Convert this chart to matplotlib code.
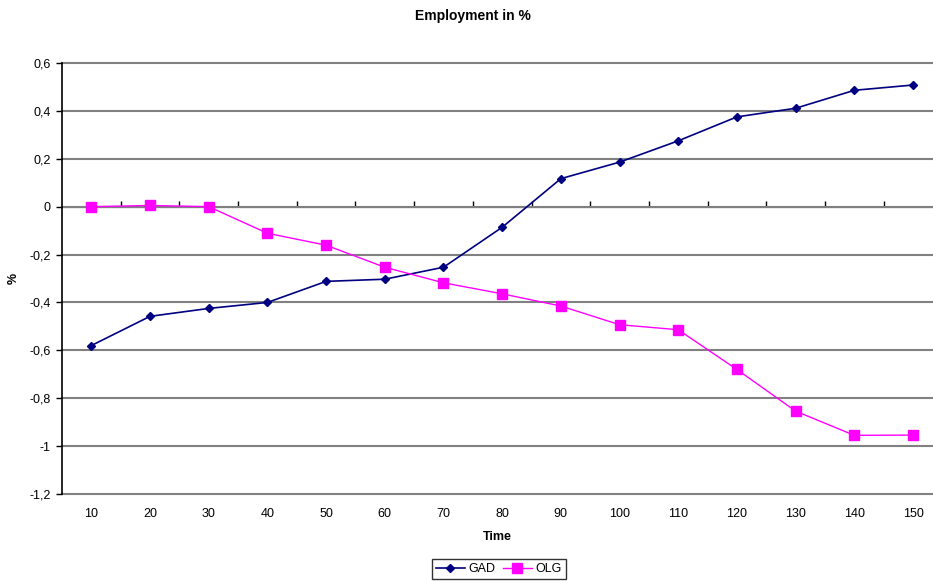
import matplotlib
matplotlib.use("Agg")
import matplotlib.pyplot as plt
from matplotlib.ticker import FuncFormatter

plt.rcParams['font.family'] = ['Liberation Sans', 'DejaVu Sans']

categories = [10, 20, 30, 40, 50, 60, 70, 80, 90, 100, 110, 120, 130, 140, 150]
gad = [-0.58, -0.458, -0.425, -0.40, -0.312, -0.303, -0.253, -0.086, 0.117,
       0.186, 0.275, 0.375, 0.411, 0.486, 0.508]
olg = [0.0, 0.005, 0.0, -0.111, -0.161, -0.253, -0.318, -0.364, -0.415,
       -0.493, -0.514, -0.68, -0.854, -0.955, -0.954]
yticks = [0.6, 0.4, 0.2, 0, -0.2, -0.4, -0.6, -0.8, -1, -1.2]

fig = plt.figure(figsize=(9.33, 5.81), dpi=100)
ax = fig.add_axes([62/933, 1-494/581, 1-62/933, (494-63)/581])

xs = list(range(1, len(categories)+1))
ax.set_xlim(0.5, 0.5 + 871/58.69)
ax.set_ylim(-1.2, 0.6)

for y in yticks:
    ax.axhline(y, color='#808080', lw=1.5, zorder=1, clip_on=False)

ax.plot(xs, gad, color='#000080', marker='D', markersize=4.5, lw=1.2, label='GAD', zorder=3)
ax.plot(xs, olg, color='#FF00FF', marker='s', markersize=6.5, lw=1.0, label='OLG', zorder=3)

for s in ['top', 'right', 'bottom']:
    ax.spines[s].set_visible(False)
ax.spines['left'].set_color('black')
ax.spines['left'].set_linewidth(1.2)
ax.spines['left'].set_zorder(4)

ax.set_yticks(yticks)
ax.yaxis.set_major_formatter(FuncFormatter(lambda v, p: ('%g' % round(v, 1)).replace('.', ',')))
ax.tick_params(axis='y', direction='out', length=4, width=1, labelsize=9, pad=4)

ax.set_xticks(xs)
ax.set_xticklabels([str(c) for c in categories])
ax.tick_params(axis='x', length=0, labelsize=9, pad=10)

# category axis crossing at zero, with ticks between categories
sec = ax.secondary_xaxis(1.2/1.8)
sec.set_xticks([x + 0.5 for x in xs[:-1]])
sec.set_xticklabels([])
sec.tick_params(direction='out', length=4, width=1, color='black')
sec.spines['bottom'].set_visible(False)

ax.set_xlabel('Time', fontsize=9, fontweight='bold', labelpad=8)
fig.text(14/933, 1-278/581, '%', rotation=90, ha='center', va='center',
         fontsize=9, fontweight='bold')
fig.text(473/933, 1-16/581, 'Employment in %', ha='center', va='center',
         fontsize=10, fontweight='bold')

leg = fig.legend(loc='center', bbox_to_anchor=(499/933, 1-569/581), ncol=2,
                 frameon=True, fancybox=False, fontsize=9, handlelength=2.3,
                 columnspacing=0.6, handletextpad=0.3, borderpad=0.3, borderaxespad=0)
leg.get_frame().set_edgecolor('black')
leg.get_frame().set_linewidth(1.0)

fig.savefig('out.png', dpi=100)
